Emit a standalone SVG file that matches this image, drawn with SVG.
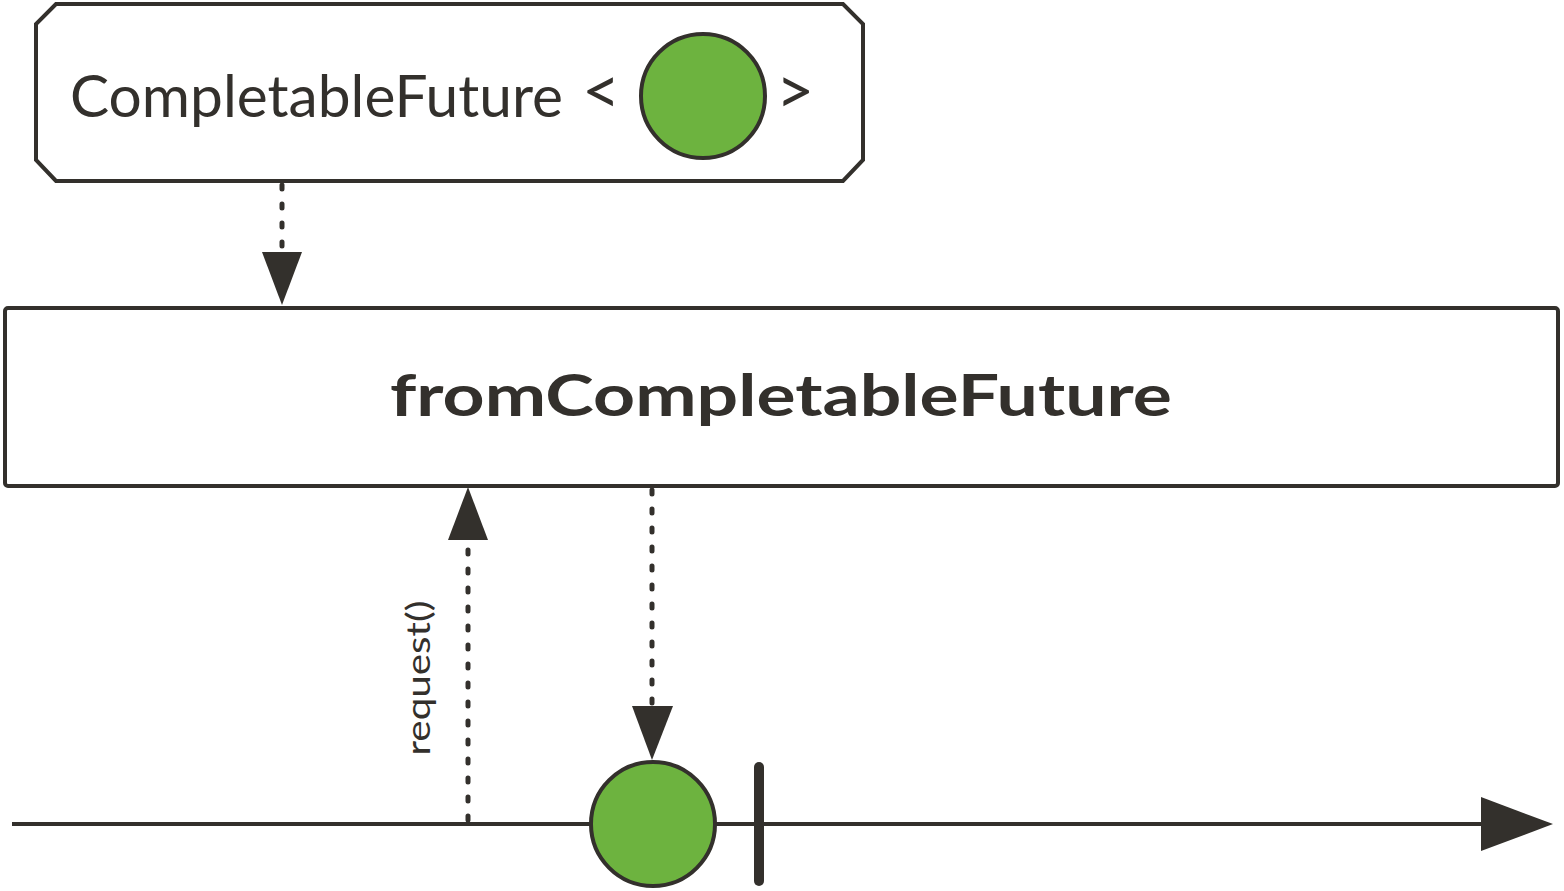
<svg xmlns="http://www.w3.org/2000/svg" width="1564" height="891" viewBox="0 0 1564 891">
<style>
.ln{stroke:#33302c;stroke-width:4;fill:none}
.dash{stroke:#33302c;stroke-width:5;fill:none;stroke-dasharray:4 15;stroke-linecap:round}
.head{fill:#33302c}
.marble{fill:#6db33f;stroke:#33302c;stroke-width:4}
.t{font-family:Lato,"Open Sans",sans-serif;fill:#33302c}
</style>
<rect width="1564" height="891" fill="#fff"/>
<g id="source">
<path class="ln" d="M56,4 H843 L863,24 V160 L843,181 H56 L36,160 V24 Z"/>
<text class="t" x="70" y="117" font-size="58" textLength="493" lengthAdjust="spacingAndGlyphs">CompletableFuture</text>
<text class="t" x="582" y="114" font-size="66">&lt;</text>
<circle class="marble" cx="703" cy="96" r="62"/>
<text class="t" x="776" y="114" font-size="66">&gt;</text>
</g>
<g id="operator">
<rect class="ln" x="5" y="308" width="1553" height="178" rx="3"/>
<text class="t" x="781" y="416" font-size="58" font-weight="bold" text-anchor="middle" textLength="782" lengthAdjust="spacingAndGlyphs">fromCompletableFuture</text>
</g>
<g id="timeline">
<line class="ln" x1="12" y1="824" x2="1485" y2="824"/>
<path class="head" d="M1481,797 L1553,824 L1481,851 Z"/>
<line x1="759" y1="767" x2="759" y2="881" stroke="#33302c" stroke-width="10" stroke-linecap="round"/>
</g>
<g id="connectors">
<line class="dash" x1="282" y1="185" x2="282" y2="252"/>
<path class="head" d="M262,252 L302,252 L282,305 Z"/>
<line class="dash" x1="468" y1="820" x2="468" y2="542"/>
<path class="head" d="M448,540 L488,540 L468,487 Z"/>
<text class="t" font-size="33" text-anchor="middle" transform="translate(430,678) rotate(-90)" textLength="155" lengthAdjust="spacingAndGlyphs">request()</text>
<line class="dash" x1="652" y1="490" x2="652" y2="704"/>
<path class="head" d="M632,706 L673,706 L652,760 Z"/>
</g>
<g id="item">
<circle class="marble" cx="653" cy="824" r="62"/>
</g>
</svg>
